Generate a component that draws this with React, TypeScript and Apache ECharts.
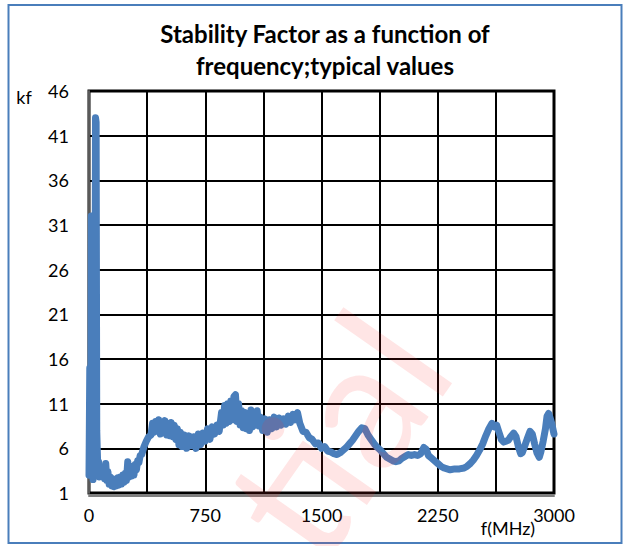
import React, { useEffect, useRef } from 'react';
import * as echarts from 'echarts';

const titleLines = ['Stability Factor as a function of', 'frequency;typical values'];
const yAxisName = 'kf';
const xAxisName = 'f(MHz)';
const watermarkText = 'tial';

const xMin = 0;
const xMax = 3000;
const xGridStep = 375;
const xLabelStep = 750;
const yMin = 1;
const yMax = 46;
const yStep = 5;

const freqMHz = [
  0, 5, 8, 12, 15, 18, 22, 26, 30, 34, 38, 42, 46, 50, 54, 58, 62, 66, 70, 80, 90, 100, 108, 115, 122, 130, 138, 146, 154,
  162, 170, 178, 186, 194, 202, 210, 218, 226, 234, 242, 250, 258, 266, 274, 282, 290, 298, 306, 314, 322, 330, 340, 355,
  370, 385, 400, 410, 420, 430, 440, 450, 460, 470, 480, 490, 500,
  510, 520, 530, 540, 550, 560, 570, 580, 590, 600, 615, 630, 645, 660, 675, 690, 705, 720, 735, 750, 765, 780, 795, 810,
  825, 840, 855, 865, 875, 885, 895, 905, 915, 925, 935, 945, 955, 965, 975, 985, 995, 1005, 1015, 1025, 1035, 1045, 1055,
  1065, 1075, 1085, 1095, 1105, 1120, 1135, 1150, 1165, 1180, 1195, 1210, 1225, 1240, 1255, 1270, 1285, 1300, 1315, 1330,
  1345, 1360, 1380, 1400, 1420, 1440, 1460, 1480, 1500, 1520, 1540, 1560, 1580, 1600, 1620, 1640, 1660, 1680, 1700, 1720,
  1740, 1760, 1780, 1800, 1820, 1840, 1860, 1880, 1900, 1920, 1940, 1960, 1980, 2000, 2020, 2040, 2060, 2080, 2100, 2120,
  2140, 2160, 2175, 2190, 2210, 2230, 2250, 2270, 2290, 2310, 2330, 2360, 2390, 2420, 2440, 2460, 2480, 2500, 2520, 2540,
  2560, 2580, 2600, 2615, 2630, 2645, 2660, 2675, 2690, 2705, 2720, 2740, 2755, 2770, 2785, 2795, 2810, 2830, 2845, 2860,
  2875, 2890, 2905, 2915, 2930, 2945, 2955, 2965, 2975, 2985, 2995, 3000,
];

const kfValues = [
  3.0, 15.0, 4.0, 6.0, 32.0, 3.0, 12.0, 2.5, 5.0, 3.0, 8.0, 43.0, 42.5, 8.0, 5.5, 3.0, 4.5, 2.8, 3.5, 3.0, 3.8, 2.6, 4.3,
  2.4, 3.4, 2.0, 2.8, 1.8, 2.6, 1.7, 2.5, 1.8, 2.7, 1.9, 2.8, 2.0, 3.0, 2.2, 3.2, 2.4, 4.5, 2.8, 3.8, 2.9, 4.0, 3.0, 4.2,
  3.6, 4.6, 4.4, 5.2, 5.3, 6.2, 6.8, 7.3, 7.5, 8.8, 7.8, 9.0, 8.0,
  9.2, 7.6, 8.9, 7.9, 9.1, 7.5, 8.7, 7.4, 8.9, 7.3, 8.6, 7.0, 8.2, 6.4, 7.8, 6.2, 7.5, 6.0, 7.4, 6.3, 7.3, 6.0, 7.6, 6.4,
  7.7, 6.8, 8.2, 7.0, 8.4, 7.6, 8.6, 7.9, 10.0, 8.6, 10.8, 8.8, 11.0, 9.0, 11.3, 9.2, 11.8, 12.0, 9.0, 11.0, 8.6, 10.2,
  8.3, 10.0, 8.2, 9.8, 8.0, 10.3, 8.4, 10.0, 8.6, 10.2, 8.5, 9.5, 8.0, 9.3, 7.8, 9.2, 8.2, 9.5, 8.4, 9.4, 8.6, 9.3, 8.7,
  9.6, 8.9, 9.8, 9.2, 10.0, 8.8, 7.9, 7.8, 7.2, 7.0, 6.5, 6.6, 6.0, 6.2, 5.7, 5.6, 5.4, 5.3, 5.5, 5.8, 6.1, 6.5, 6.9, 7.4,
  7.9, 8.3, 8.2, 7.5, 7.0, 6.5, 6.1, 5.8, 5.4, 5.0, 4.8, 4.6, 4.5, 4.6, 4.9, 5.1, 5.3, 5.2, 5.3, 5.2, 5.4, 6.1, 5.9, 5.2,
  4.9, 4.6, 4.3, 4.0, 3.8, 3.7, 3.6, 3.7, 3.7, 3.8, 4.0, 4.3, 4.7, 5.2, 5.8, 6.5, 7.4, 8.2, 8.8, 8.4, 8.6, 7.8, 7.0, 6.7,
  6.8, 6.9, 7.3, 7.7, 7.3, 6.2, 5.4, 5.5, 6.2, 7.2, 7.9, 7.6, 6.5, 5.5, 5.0, 5.6, 6.8, 8.2, 9.6, 9.9, 9.4, 8.8, 8.0, 7.6,
];

const FONT = 'Lato, "Open Sans", sans-serif';

export default function App() {
  const ref = useRef<HTMLDivElement>(null);
  useEffect(() => {
    if (!ref.current) return;
    const chart = echarts.init(ref.current, null, { renderer: 'svg' });
    const data = freqMHz.map((f, i) => [f, kfValues[i]]);
    chart.setOption({
      animation: false,
      backgroundColor: '#ffffff',
      textStyle: { fontFamily: FONT },
      title: {
        text: titleLines.join('\n'),
        left: 320,
        top: 12,
        textAlign: 'center',
        textStyle: { fontFamily: FONT, fontSize: 24, fontWeight: 'bold', color: '#000', lineHeight: 32 },
      },
      grid: {
        left: 89,
        right: 71,
        top: 91,
        bottom: 53,
        show: true,
        borderColor: '#000',
        borderWidth: 3,
        backgroundColor: 'transparent',
      },
      xAxis: {
        type: 'value',
        min: xMin,
        max: xMax,
        interval: xGridStep,
        offset: 3,
        axisLine: { show: true, lineStyle: { color: '#808080', width: 2 } },
        axisTick: { show: false },
        splitLine: { show: true, lineStyle: { color: '#000', width: 2 } },
        axisLabel: {
          margin: 10,
          fontSize: 18,
          color: '#000',
          fontFamily: FONT,
          formatter: (v: number) => (v % xLabelStep === 0 ? String(v) : ''),
        },
      },
      yAxis: {
        type: 'value',
        min: yMin,
        max: yMax,
        interval: yStep,
        offset: 3,
        axisLine: { show: true, lineStyle: { color: '#595959', width: 2 } },
        axisTick: { show: false },
        splitLine: { show: true, lineStyle: { color: '#000', width: 2 } },
        axisLabel: { margin: 17, fontSize: 18, color: '#000', fontFamily: FONT },
      },
      series: [
        {
          type: 'line',
          data,
          showSymbol: false,
          symbol: 'none',
          lineStyle: { color: '#4a7ebb', width: 7, cap: 'round', join: 'round' },
          z: 5,
        },
      ],
      graphic: [
        {
          type: 'rect',
          shape: { x: 8.5, y: 5, width: 613, height: 538 },
          style: { fill: 'none', stroke: '#4a7ebb', lineWidth: 2 },
          z: 1,
          silent: true,
        },
        {
          type: 'text',
          x: 24,
          y: 97,
          style: { text: yAxisName, fontSize: 18, fontFamily: FONT, fill: '#000', align: 'center', verticalAlign: 'middle' },
          z: 10,
        },
        {
          type: 'text',
          x: 508,
          y: 528,
          style: { text: xAxisName, fontSize: 18, fontFamily: FONT, fill: '#000', align: 'center', verticalAlign: 'middle' },
          z: 10,
        },
        {
          type: 'text',
          x: 476,
          y: 384,
          rotation: (55 * Math.PI) / 180,
          style: {
            text: watermarkText,
            fontSize: 180,
            fontFamily: FONT,
            fontWeight: 'normal',
            fill: 'rgba(255,40,40,0.12)',
            align: 'right',
            verticalAlign: 'bottom',
          },
          z: 100,
          silent: true,
        },
      ],
    });
    return () => chart.dispose();
  }, []);
  return (
    <div
      ref={ref}
      style={{ position: 'absolute', left: 0, top: 0, width: 625, height: 546, background: '#fff' }}
    />
  );
}
